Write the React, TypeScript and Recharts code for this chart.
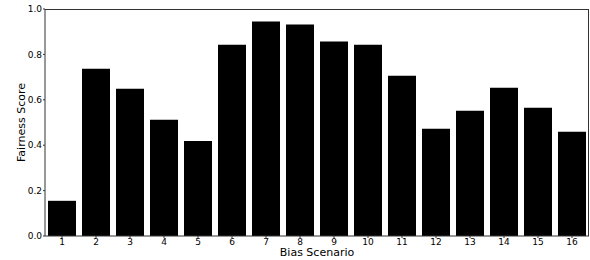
import { BarChart, Bar, XAxis, YAxis } from "recharts";

const scenarios = ["1", "2", "3", "4", "5", "6", "7", "8", "9", "10", "11", "12", "13", "14", "15", "16"];
const fairnessScores = [0.155, 0.737, 0.649, 0.512, 0.419, 0.843, 0.945, 0.932, 0.857, 0.843, 0.706, 0.472, 0.552, 0.653, 0.565, 0.459];
const yTicks = [0, 0.2, 0.4, 0.6, 0.8, 1.0];

const data = scenarios.map((s, i) => ({ scenario: s, score: fairnessScores[i] }));

const font = "DejaVu Sans, sans-serif";
const tickStyle = { fontSize: 9, fill: "#000", fontFamily: font };

// chart box
const W = 590;
const H = 260;
const margin = { top: 9, right: 1, bottom: 0, left: 0 };
const yAxisWidth = 45;
const xAxisHeight = 24;

const YLabel = ({ viewBox }: any) => {
  const cy = viewBox.y + viewBox.height / 2;
  return (
    <text
      x={21}
      y={cy}
      transform={`rotate(-90, 21, ${cy})`}
      textAnchor="middle"
      dominantBaseline="central"
      fontSize={11}
      fontFamily={font}
      fill="#000"
    >
      Fairness Score
    </text>
  );
};

const App = () => {
  return (
    <div style={{ position: "absolute", left: 0, top: 0, width: W, height: H, background: "#fff" }}>
      <BarChart width={W} height={H} data={data} margin={margin} barCategoryGap={3}>
        <XAxis
          dataKey="scenario"
          height={xAxisHeight}
          tick={tickStyle}
          tickSize={2}
          tickMargin={1}
          axisLine={{ stroke: "#333" }}
          tickLine={{ stroke: "#333" }}
          label={{ value: "Bias Scenario", position: "insideBottom", offset: 4, fontSize: 11, fontFamily: font, fill: "#000" }}
        />
        <YAxis
          width={yAxisWidth}
          domain={[0, 1]}
          ticks={yTicks}
          tickFormatter={(v: number) => v.toFixed(1)}
          tick={tickStyle}
          tickSize={2}
          tickMargin={1}
          axisLine={{ stroke: "#333" }}
          tickLine={{ stroke: "#333" }}
          label={<YLabel />}
        />
        <Bar dataKey="score" fill="#000" isAnimationActive={false} />
      </BarChart>
      {/* top/right frame like matplotlib spines */}
      <div
        style={{
          position: "absolute",
          left: margin.left + yAxisWidth,
          top: margin.top,
          width: W - margin.left - margin.right - yAxisWidth,
          height: H - margin.top - margin.bottom - xAxisHeight,
          borderTop: "1px solid #333",
          borderRight: "1px solid #333",
          boxSizing: "border-box",
          pointerEvents: "none",
        }}
      />
    </div>
  );
};

export default App;
